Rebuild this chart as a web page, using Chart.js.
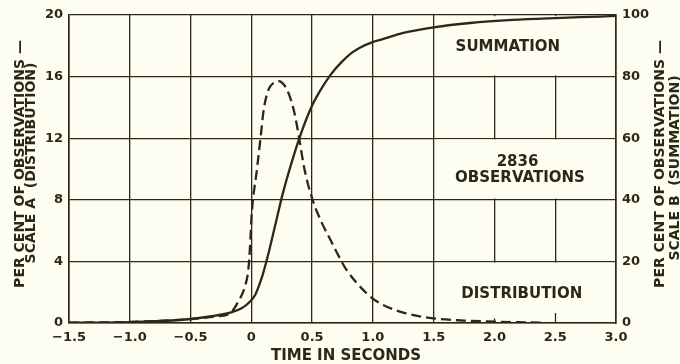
<!DOCTYPE html>
<html>
<head>
<meta charset="utf-8">
<script src="https://cdn.jsdelivr.net/npm/chart.js@4"></script>
<style>
  html, body { margin: 0; padding: 0; background: #fdfdf2; }
  #wrap { width: 680px; height: 364px; position: relative; }
</style>
</head>
<body>
<div id="wrap"><canvas id="c" width="680" height="364"></canvas></div>
<script>
// ---- data ----
const distTimes  = [-1.5, -1.0, -0.6, -0.45, -0.3, -0.176, -0.108, -0.053, -0.025, -0.012, -0.004, 0.0, 0.047, 0.075, 0.103, 0.144, 0.185, 0.228, 0.265, 0.297, 0.353, 0.394, 0.436, 0.5, 0.575, 0.658, 0.742, 0.784, 0.948, 1.058, 1.25, 1.5, 1.75, 2.0, 2.2, 2.4];
const distValues = [0.02, 0.07, 0.2, 0.28, 0.42, 0.63, 1.38, 2.36, 3.44, 4.8, 6.0, 6.7, 10.03, 11.97, 13.91, 15.2, 15.6, 15.7, 15.5, 15.1, 13.7, 11.97, 10.03, 8.09, 6.59, 5.29, 4.0, 3.44, 1.93, 1.28, 0.68, 0.3, 0.16, 0.09, 0.05, 0.02];
const sumTimes   = [-1.5, -1.0, -0.587, -0.313, -0.176, -0.08, -0.012, 0.03, 0.06, 0.09, 0.12, 0.15, 0.186, 0.22, 0.256, 0.325, 0.394, 0.5, 0.575, 0.658, 0.742, 0.825, 0.893, 1.003, 1.06, 1.25, 1.5, 1.8, 2.15, 2.5, 2.87, 3.0];
const sumValues  = [0.1, 0.3, 0.97, 2.27, 3.35, 4.76, 6.9, 9.0, 11.8, 15.2, 19.4, 24.0, 30.0, 35.7, 41.6, 51.25, 59.9, 70.6, 76.0, 80.9, 84.7, 87.7, 89.4, 91.3, 91.9, 94.2, 96.0, 97.4, 98.4, 99.0, 99.5, 99.7];
const xTickLabels      = ['\u22121.5', '\u22121.0', '\u22120.5', '0', '0.5', '1.0', '1.5', '2.0', '2.5', '3.0'];
const leftTickLabels   = ['0', '4', '8', '12', '16', '20'];
const rightTickLabels  = ['0', '20', '40', '60', '80', '100'];
const leftTitleLines   = ['PER CENT OF OBSERVATIONS \u2014', 'SCALE A  (DISTRIBUTION)'];
const rightTitleLines  = ['PER CENT OF OBSERVATIONS \u2014', 'SCALE B  (SUMMATION)'];
const xTitle           = 'TIME IN SECONDS';
const boxLabels        = ['SUMMATION', '2836', 'OBSERVATIONS', 'DISTRIBUTION'];

const INK = '#2d2815';
const BG = '#fdfdf2';
const FONT = '"DejaVu Sans", sans-serif';

const distData = distTimes.map((t, i) => ({ x: t, y: distValues[i] }));
const sumData  = sumTimes.map((t, i) => ({ x: t, y: sumValues[i] }));

const bgPlugin = {
  id: 'bg',
  beforeDraw(chart) {
    const ctx = chart.ctx;
    ctx.save();
    ctx.fillStyle = BG;
    ctx.fillRect(0, 0, chart.width, chart.height);
    ctx.restore();
  }
};

// erase inner vertical grid lines in the labelled cells (1.5 .. 3.0)
const cellPlugin = {
  id: 'cells',
  beforeDatasetsDraw(chart) {
    const ctx = chart.ctx, xs = chart.scales.x, ys = chart.scales.yA;
    const x1 = xs.getPixelForValue(1.5) + 1.2, x2 = xs.getPixelForValue(3.0) - 1.2;
    ctx.save();
    ctx.fillStyle = BG;
    [[16, 20], [8, 12], [0, 4]].forEach(([lo, hi]) => {
      const yt = ys.getPixelForValue(hi) + 1.2;
      const yb = ys.getPixelForValue(lo) - (lo === 0 ? 1.0 : 1.2);
      ctx.fillRect(x1, yt, x2 - x1, yb - yt);
    });
    // short stubs left at the bottom of the distribution cell
    ctx.strokeStyle = INK;
    ctx.lineWidth = 1.3;
    [[2.0, 0.3], [2.5, 0.65]].forEach(([t, h]) => {
      const px = Math.round(xs.getPixelForValue(t)) + 0.5;
      ctx.beginPath();
      ctx.moveTo(px, ys.getPixelForValue(0));
      ctx.lineTo(px, ys.getPixelForValue(h));
      ctx.stroke();
    });
    ctx.restore();
  }
};

const textPlugin = {
  id: 'texts',
  afterDraw(chart) {
    const ctx = chart.ctx, xs = chart.scales.x, ys = chart.scales.yA;
    ctx.save();
    ctx.fillStyle = INK;
    ctx.textAlign = 'center';
    ctx.textBaseline = 'middle';
    // labels inside the cells
    ctx.font = 'bold 15px ' + FONT;
    const spots = [[2.11, 17.9], [2.19, 10.45], [2.21, 9.4], [2.225, 1.9]];
    boxLabels.forEach((s, i) => {
      ctx.fillText(s, xs.getPixelForValue(spots[i][0]), ys.getPixelForValue(spots[i][1]));
    });
    // x title
    ctx.font = 'bold 15px ' + FONT;
    ctx.fillText(xTitle, 346, 356);
    // rotated titles
    ctx.font = 'bold 14px ' + FONT;
    const rot = (lines, xsPos, yc) => {
      lines.forEach((s, i) => {
        ctx.save();
        ctx.translate(xsPos[i], yc[i]);
        ctx.rotate(-Math.PI / 2);
        ctx.fillText(s, 0, 0);
        ctx.restore();
      });
    };
    rot(leftTitleLines, [20, 31.5], [164, 163]);
    rot(rightTitleLines, [660, 675], [164, 168]);
    ctx.restore();
  }
};

new Chart(document.getElementById('c'), {
  type: 'line',
  data: {
    datasets: [
      {
        label: 'Distribution',
        data: distData,
        yAxisID: 'yA',
        borderColor: INK,
        borderWidth: 2.3,
        borderDash: [10, 5],
        pointRadius: 0,
        fill: false,
        cubicInterpolationMode: 'monotone'
      },
      {
        label: 'Summation',
        data: sumData,
        yAxisID: 'yB',
        borderColor: INK,
        borderWidth: 2.3,
        pointRadius: 0,
        fill: false,
        cubicInterpolationMode: 'monotone'
      }
    ]
  },
  options: {
    responsive: false,
    animation: false,
    devicePixelRatio: 1,
    layout: { padding: { top: 15, left: 0, right: 0, bottom: 0 } },
    plugins: { legend: { display: false }, tooltip: { enabled: false } },
    scales: {
      x: {
        type: 'linear',
        min: -1.5, max: 3.0,
        afterFit(s) { s.height = 41; },
        grid: { color: INK, lineWidth: 1.3, drawTicks: false },
        border: { color: INK, width: 1.6 },
        ticks: {
          stepSize: 0.5, padding: 7, color: INK, maxRotation: 0,
          font: { family: FONT, size: 13, weight: 'bold' },
          callback: (v, i) => xTickLabels[i]
        }
      },
      yA: {
        type: 'linear', position: 'left',
        min: 0, max: 20,
        afterFit(s) { s.width = 69; },
        grid: { color: INK, lineWidth: 1.3, drawTicks: false },
        border: { color: INK, width: 1.6 },
        ticks: {
          stepSize: 4, padding: 6, color: INK,
          font: { family: FONT, size: 13, weight: 'bold' },
          callback: (v, i) => leftTickLabels[i]
        }
      },
      yB: {
        type: 'linear', position: 'right',
        min: 0, max: 100,
        afterFit(s) { s.width = 64; },
        grid: { display: false, drawTicks: false },
        border: { color: INK, width: 1.6 },
        ticks: {
          stepSize: 20, padding: 6, color: INK,
          font: { family: FONT, size: 13, weight: 'bold' },
          callback: (v, i) => rightTickLabels[i]
        }
      }
    }
  },
  plugins: [bgPlugin, cellPlugin, textPlugin]
});
</script>
</body>
</html>
